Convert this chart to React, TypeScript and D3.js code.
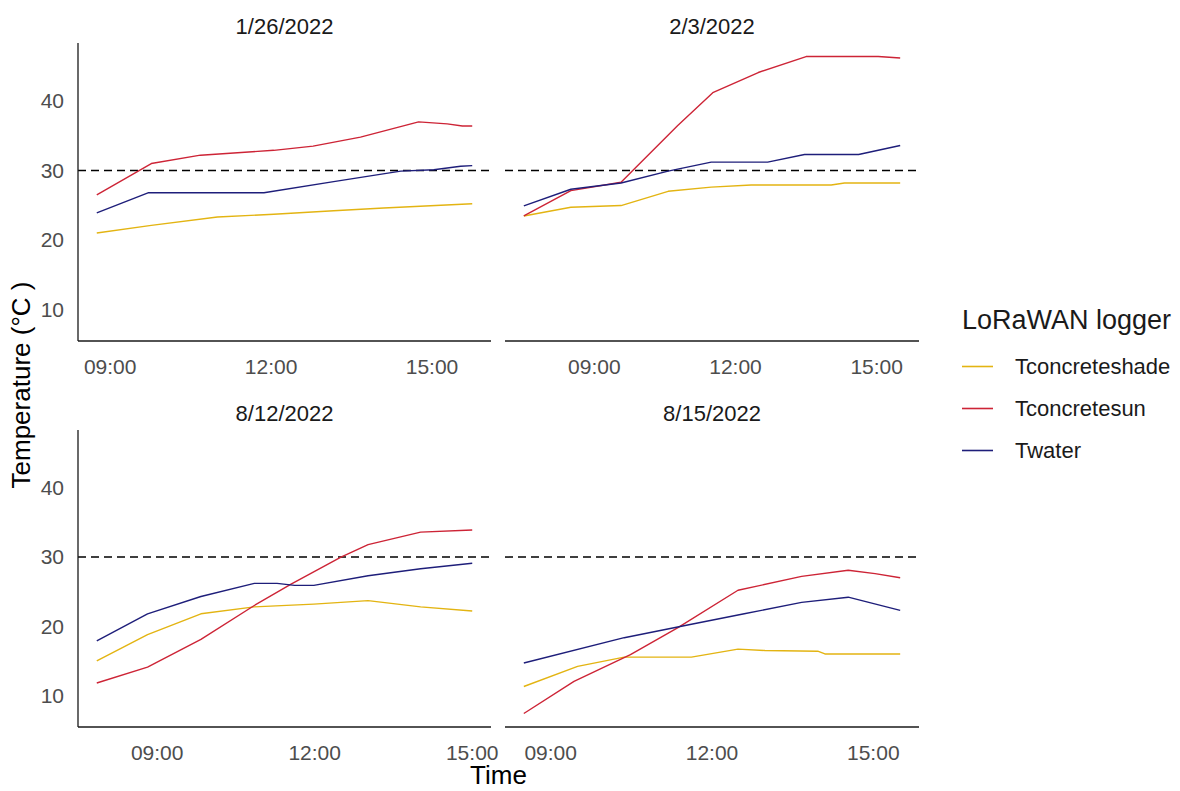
import React from "react";
import * as d3 from "d3";

// ---------- data ----------
const PANELS = ["1/26/2022", "2/3/2022", "8/12/2022", "8/15/2022"];
const PANEL_DATES = ["2022-01-26", "2022-02-03", "2022-08-12", "2022-08-15"];
const LOGGERS = ["Tconcreteshade", "Tconcretesun", "Twater"];
const LOGGER_COLORS = ["#E3B412", "#CD2436", "#1E1E7A"];
const Y_TICKS = [10, 20, 30, 40];
const X_TICK_TIMES = ["09:00", "12:00", "15:00"];
const THRESHOLD = 30;

// 1/26/2022
const p1ShadeTime = ["08:45", "09:46", "11:00", "12:03", "13:10", "14:06", "15:10", "15:45"];
const p1ShadeTemp = [21.0, 22.1, 23.3, 23.7, 24.2, 24.6, 25.0, 25.2];
const p1SunTime = ["08:45", "09:46", "10:41", "12:03", "12:47", "13:40", "14:45", "15:17", "15:34", "15:45"];
const p1SunTemp = [26.5, 31.0, 32.2, 32.9, 33.5, 34.8, 37.0, 36.7, 36.4, 36.4];
const p1WaterTime = ["08:45", "09:43", "11:52", "13:10", "14:25", "15:02", "15:32", "15:45"];
const p1WaterTemp = [23.9, 26.8, 26.8, 28.4, 29.9, 30.1, 30.6, 30.7];

// 2/3/2022
const p2ShadeTime = ["07:30", "08:30", "09:34", "10:34", "11:29", "12:20", "14:02", "14:19", "15:30"];
const p2ShadeTemp = [23.45, 24.7, 24.95, 27.0, 27.6, 27.9, 27.9, 28.2, 28.2];
const p2SunTime = ["07:30", "08:30", "09:34", "10:46", "11:31", "12:29", "13:30", "15:02", "15:30"];
const p2SunTemp = [23.45, 27.1, 28.3, 36.45, 41.2, 44.1, 46.4, 46.4, 46.2];
const p2WaterTime = ["07:30", "08:30", "09:34", "10:34", "11:29", "12:41", "13:28", "14:37", "15:30"];
const p2WaterTemp = [24.9, 27.3, 28.2, 29.9, 31.2, 31.2, 32.3, 32.3, 33.6];

// 8/12/2022
const p3ShadeTime = ["07:51", "08:49", "09:50", "10:51", "11:59", "13:01", "14:01", "15:00"];
const p3ShadeTemp = [15.0, 18.8, 21.8, 22.8, 23.2, 23.7, 22.8, 22.2];
const p3SunTime = ["07:51", "08:49", "09:50", "10:51", "11:33", "12:30", "13:01", "14:01", "15:00"];
const p3SunTemp = [11.8, 14.1, 18.1, 23.0, 26.1, 30.0, 31.8, 33.6, 33.9];
const p3WaterTime = ["07:51", "08:49", "09:50", "10:51", "11:17", "11:37", "11:59", "13:01", "14:01", "15:00"];
const p3WaterTemp = [17.9, 21.8, 24.3, 26.2, 26.2, 25.9, 25.9, 27.3, 28.3, 29.1];

// 8/15/2022
const p4ShadeTime = ["08:30", "09:30", "10:22", "11:37", "12:29", "12:59", "13:58", "14:06", "15:30"];
const p4ShadeTemp = [11.3, 14.2, 15.55, 15.55, 16.7, 16.5, 16.4, 16.0, 16.0];
const p4SunTime = ["08:30", "09:26", "10:29", "11:22", "12:29", "13:40", "14:32", "15:02", "15:30"];
const p4SunTemp = [7.4, 12.05, 15.9, 19.8, 25.2, 27.2, 28.1, 27.6, 27.0];
const p4WaterTime = ["08:30", "10:22", "11:37", "12:36", "13:40", "14:32", "15:30"];
const p4WaterTemp = [14.7, 18.35, 20.3, 21.8, 23.45, 24.2, 22.3];

const PANEL_SERIES = [
  [[p1ShadeTime, p1ShadeTemp], [p1SunTime, p1SunTemp], [p1WaterTime, p1WaterTemp]],
  [[p2ShadeTime, p2ShadeTemp], [p2SunTime, p2SunTemp], [p2WaterTime, p2WaterTemp]],
  [[p3ShadeTime, p3ShadeTemp], [p3SunTime, p3SunTemp], [p3WaterTime, p3WaterTemp]],
  [[p4ShadeTime, p4ShadeTemp], [p4SunTime, p4SunTemp], [p4WaterTime, p4WaterTemp]],
];

// ---------- layout ----------
const W = 1180;
const H = 791;
const COLS = [
  { x0: 78, x1: 491 },
  { x0: 505, x1: 919 },
];
const ROWS = [
  { y0: 43, y1: 341 },
  { y0: 430, y1: 727 },
];
const FONT = "'Liberation Sans', Arial, Helvetica, sans-serif";

const parseDT = d3.timeParse("%Y-%m-%d %H:%M");
const fmt = d3.timeFormat("%H:%M");

function expand([a, b]: [number, number], f = 0.05): [number, number] {
  const p = (b - a) * f;
  return [a - p, b + p];
}

export default function App() {
  const allTemps = PANEL_SERIES.flatMap((s) => s.flatMap(([, v]) => v as number[]));
  const yDom = expand([d3.min(allTemps)!, d3.max(allTemps)!]);

  const panels = PANELS.map((label, i) => {
    const col = COLS[i % 2];
    const row = ROWS[Math.floor(i / 2)];
    const date = PANEL_DATES[i];
    const series = PANEL_SERIES[i].map(([times, temps], k) =>
      (times as string[]).map((t, j) => ({ t: parseDT(`${date} ${t}`)!, v: (temps as number[])[j], k }))
    );
    const allT = series.flat().map((d) => +d.t);
    const [t0, t1] = expand([d3.min(allT)!, d3.max(allT)!]);
    const x = d3.scaleTime().domain([new Date(t0), new Date(t1)]).range([col.x0, col.x1]);
    const y = d3.scaleLinear().domain(yDom).range([row.y1, row.y0]);
    const line = d3
      .line<{ t: Date; v: number }>()
      .x((d) => x(d.t))
      .y((d) => y(d.v));
    const ticks = X_TICK_TIMES.map((t) => parseDT(`${date} ${t}`)!);
    return { label, col, row, series, x, y, line, ticks, left: i % 2 === 0 };
  });

  return (
    <svg
      width={W}
      height={H}
      style={{ position: "absolute", left: 0, top: 0, background: "#fff", display: "block" }}
      fontFamily={FONT}
    >
      <rect x={0} y={0} width={W} height={H} fill="#fff" />
      {panels.map((p, i) => (
        <g key={i}>
          {/* strip title */}
          <text
            x={(p.col.x0 + p.col.x1) / 2}
            y={p.row.y0 - 9}
            textAnchor="middle"
            fontSize={22}
            fill="#1a1a1a"
          >
            {p.label}
          </text>
          {/* threshold */}
          <line
            x1={p.col.x0}
            x2={p.col.x1}
            y1={p.y(THRESHOLD)}
            y2={p.y(THRESHOLD)}
            stroke="#000"
            strokeWidth={1.5}
            strokeDasharray="8,5"
          />
          {/* series */}
          {p.series.map((s, k) => (
            <path
              key={k}
              d={p.line(s) || ""}
              fill="none"
              stroke={LOGGER_COLORS[k]}
              strokeWidth={1.4}
              strokeLinejoin="round"
            />
          ))}
          {/* axes */}
          <line x1={p.col.x0} x2={p.col.x1} y1={p.row.y1} y2={p.row.y1} stroke="#1a1a1a" strokeWidth={1.3} />
          {p.left && (
            <line x1={p.col.x0} x2={p.col.x0} y1={p.row.y0} y2={p.row.y1} stroke="#1a1a1a" strokeWidth={1.3} />
          )}
          {p.ticks.map((t, j) => (
            <text
              key={j}
              x={p.x(t)}
              y={p.row.y1 + 33}
              textAnchor="middle"
              fontSize={21}
              fill="#4d4d4d"
            >
              {fmt(t)}
            </text>
          ))}
          {p.left &&
            Y_TICKS.map((v) => (
              <text
                key={v}
                x={p.col.x0 - 14}
                y={p.y(v)}
                dy="0.35em"
                textAnchor="end"
                fontSize={21}
                fill="#4d4d4d"
              >
                {v}
              </text>
            ))}
        </g>
      ))}

      {/* axis titles */}
      <text x={(COLS[0].x0 + COLS[1].x1) / 2} y={784} textAnchor="middle" fontSize={26} fill="#000">
        Time
      </text>
      <text
        transform={`translate(30, ${(ROWS[0].y0 + ROWS[1].y1) / 2}) rotate(-90)`}
        textAnchor="middle"
        fontSize={26}
        fill="#000"
      >
        Temperature (°C )
      </text>

      {/* legend */}
      <text x={962} y={329} fontSize={27} fill="#1a1a1a">
        LoRaWAN logger
      </text>
      {LOGGERS.map((name, k) => {
        const ly = 366.5 + k * 42;
        return (
          <g key={name}>
            <line x1={962} x2={993} y1={ly} y2={ly} stroke={LOGGER_COLORS[k]} strokeWidth={1.6} />
            <text x={1015} y={ly} dy="0.35em" fontSize={22} fill="#1a1a1a">
              {name}
            </text>
          </g>
        );
      })}
    </svg>
  );
}
